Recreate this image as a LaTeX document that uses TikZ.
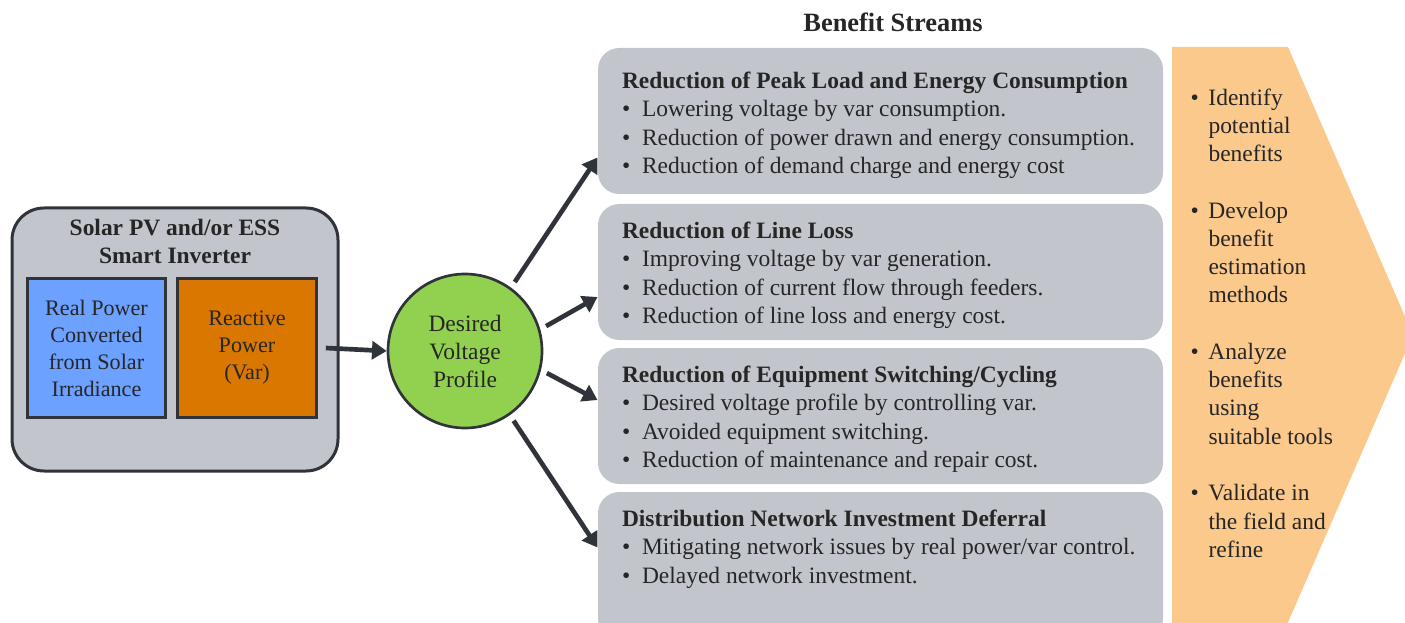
\documentclass[tikz,border=0pt]{standalone}
\usepackage{fontspec}
\setmainfont{Liberation Serif}
\usetikzlibrary{arrows.meta,calc}

\definecolor{panelgray}{HTML}{C2C6CC}
\definecolor{edgegray}{HTML}{30343A}
\definecolor{realblue}{HTML}{6CA1FF}
\definecolor{varorange}{HTML}{D97700}
\definecolor{voltgreen}{HTML}{92D050}
\definecolor{stepsorange}{HTML}{FCC98D}
\definecolor{inktext}{HTML}{262626}

\tikzset{every picture/.style={line width=0.75pt}}
\tikzset{
  panel/.style={fill=panelgray, rounded corners=16pt, inner sep=0pt, minimum width=423.75pt},
  inbox/.style={draw=edgegray, line width=2.25pt, inner sep=0pt, minimum width=104pt, minimum height=103.5pt,
    align=center, text=inktext, font=\fontsize{16.6pt}{20.25pt}\selectfont},
  flow/.style={draw=edgegray, line width=3.5pt, -{Triangle[length=11pt,width=13.5pt]}},
  body/.style={anchor=north west, inner sep=0pt, align=left, text=inktext, font=\fontsize{17.6pt}{21.4pt}\selectfont},
}
\newcommand{\bul}{\makebox[15pt][l]{\textbullet}}
\newcommand{\stp}{\makebox[13.5pt][l]{\textbullet}}
\newcommand{\ind}{\hspace*{13.5pt}}

\begin{document}
\begin{tikzpicture}[x=0.75pt,y=0.75pt,yscale=-1,xscale=1]
    \useasboundingbox (0,0) rectangle (1405,623);
    \clip (0,0) rectangle (1405,623);

    %Chevron
    \fill [stepsorange] (1172,47) -- (1288,47) -- (1413,335) -- (1276,650) -- (1172,650) -- cycle;

    %Inverter
    \node [draw=edgegray, line width=2.25pt, fill=panelgray, rounded corners=24pt, minimum width=244.5pt, minimum height=197.25pt] (inv) at (175,339.5) {};
    \node [align=center, text=inktext, font=\bfseries\fontsize{17.6pt}{21pt}\selectfont] (invtitle) at (175,241) {Solar PV and/or ESS\\Smart Inverter};
    \node [inbox, fill=realblue] (real) at (96.5,348) {Real Power\\Converted\\from Solar\\Irradiance};
    \node [inbox, fill=varorange] (var) at (247,348) {Reactive\\Power\\(Var)};

    %Circle
    \node [circle, draw=edgegray, line width=2pt, fill=voltgreen, minimum size=115.5pt, inner sep=0pt, align=center,
      text=inktext, font=\fontsize{17.6pt}{21pt}\selectfont] (volt) at (465,351) {Desired\\Voltage\\Profile};

    %Benefit panels
    \node [text=inktext, font=\bfseries\fontsize{19.8pt}{22pt}\selectfont] (streams) at (893,22) {Benefit Streams};
    \node [panel, minimum height=109.5pt] (peak) at (880.5,121) {};
    \node [panel, minimum height=102pt] (loss) at (880.5,272) {};
    \node [panel, minimum height=102pt] (cycling) at (880.5,416) {};
    \node [panel, minimum height=111pt] (defer) at (880.5,566) {};

    %Arrows
    \draw [flow] ($(var.east)+(8,0)$) -- (volt.west);
    \draw [flow, shorten <=5pt] (volt.54) -- ($(peak.south west)+(0,-37)$);
    \draw [flow, shorten <=5pt] (volt.16) -- ($(loss.west)+(0,25)$);
    \draw [flow, shorten <=5pt] (volt.-14) -- ($(cycling.west)+(0,-16)$);
    \draw [flow, shorten <=5pt] (volt.-55) -- ($(defer.north west)+(0,56)$);

    % Text Node
    \node [body] (peaktext) at ($(peak.north west)+(24,23.5)$) {\textbf{Reduction of Peak Load and Energy Consumption}\\
      \bul Lowering voltage by var consumption.\\
      \bul Reduction of power drawn and energy consumption.\\
      \bul Reduction of demand charge and energy cost};
    % Text Node
    \node [body] (losstext) at ($(loss.north west)+(24,17.5)$) {\textbf{Reduction of Line Loss}\\
      \bul Improving voltage by var generation.\\
      \bul Reduction of current flow through feeders.\\
      \bul Reduction of line loss and energy cost.};
    % Text Node
    \node [body] (cyclingtext) at ($(cycling.north west)+(24,17.5)$) {\textbf{Reduction of Equipment Switching/Cycling}\\
      \bul Desired voltage profile by controlling var.\\
      \bul Avoided equipment switching.\\
      \bul Reduction of maintenance and repair cost.};
    % Text Node
    \node [body] (defertext) at ($(defer.north west)+(24,17.5)$) {\textbf{Distribution Network Investment Deferral}\\
      \bul Mitigating network issues by real power/var control.\\
      \bul Delayed network investment.};
    % Text Node
    \node [body, font=\fontsize{17.6pt}{21.2pt}\selectfont] (steps) at (1190,88) {\stp Identify\\ \ind potential\\ \ind benefits\\[21.2pt]
      \stp Develop\\ \ind benefit\\ \ind estimation\\ \ind methods\\[21.2pt]
      \stp Analyze\\ \ind benefits\\ \ind using\\ \ind suitable tools\\[21.2pt]
      \stp Validate in\\ \ind the field and\\ \ind refine};
\end{tikzpicture}
\end{document}
